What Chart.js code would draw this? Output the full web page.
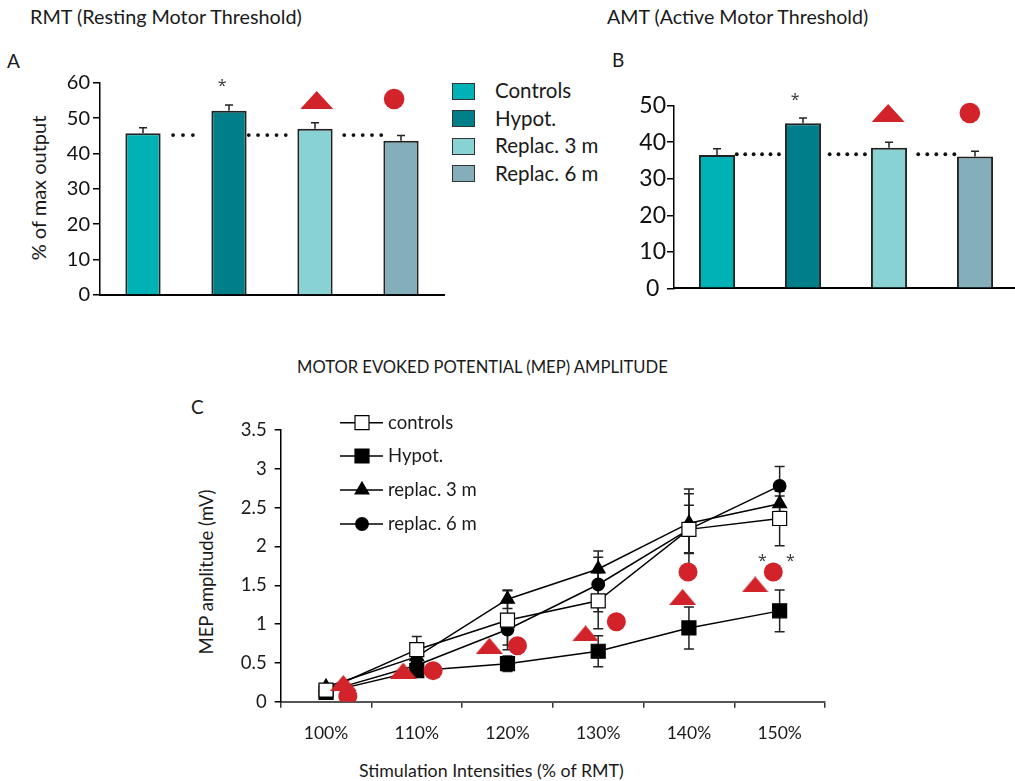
<!DOCTYPE html>
<html><head><meta charset="utf-8">
<script src="https://cdn.jsdelivr.net/npm/chart.js@4.4.1/dist/chart.umd.min.js"></script>
<style>
html,body{margin:0;padding:0;background:#fff;}
body{width:1015px;height:781px;overflow:hidden;position:relative;font-family:Lato,'Open Sans',sans-serif;color:#1a1a1a;}
.t{position:absolute;white-space:nowrap;line-height:1;}
.rot{position:absolute;white-space:nowrap;line-height:1;transform:translate(-50%,-50%) rotate(-90deg);}
canvas{position:absolute;}
.lg{position:absolute;width:23px;height:17px;border:1px solid #333;box-sizing:border-box;}
</style></head><body>
<div class="t" style="left:30px;top:7px;font-size:19.8px;">RMT (Resting Motor Threshold)</div>
<div class="t" style="left:7px;top:51px;font-size:19px;">A</div>
<div class="t" style="left:607px;top:7px;font-size:19.6px;">AMT (Active Motor Threshold)</div>
<div class="t" style="left:612px;top:50px;font-size:19px;">B</div>
<div class="rot" style="left:38px;top:188px;font-size:20px;">% of max output</div>
<div id="legA"></div>
<div class="t" style="left:297px;top:359px;font-size:16.6px;">MOTOR EVOKED POTENTIAL (MEP) AMPLITUDE</div>
<div class="t" style="left:191px;top:397px;font-size:19px;">C</div>
<div class="rot" style="left:206px;top:572px;font-size:18.5px;">MEP amplitude (mV)</div>
<div class="t" style="left:359px;top:762px;font-size:17.8px;">Stimulation Intensities (% of RMT)</div>

<canvas id="cA" width="450" height="275" style="left:0;top:40px;"></canvas>
<canvas id="cB" width="425" height="250" style="left:600px;top:60px;"></canvas>
<canvas id="cC" width="660" height="371" style="left:180px;top:410px;"></canvas>

<script>
const FONT = "Lato,'Open Sans',sans-serif";
const STAR_FONT = "'Open Sans','Noto Sans',sans-serif";
const RED = '#d2232a';

// ---------- Panels A & B data ----------
const groups = ['Controls', 'Hypot.', 'Replac. 3 m', 'Replac. 6 m'];
const barColors = ['#00b1b5', '#007f8b', '#89d2d4', '#84aeb9'];
const rmtValues = [45.7, 52.1, 47.0, 43.6];
const rmtErrors = [1.6, 1.6, 1.7, 1.5];
const amtValues = [36.5, 45.2, 38.5, 36.1];
const amtErrors = [1.7, 1.4, 1.5, 1.4];
const rmtTicks = [0, 10, 20, 30, 40, 50, 60];
const amtTicks = [0, 10, 20, 30, 40, 50];
// dotted connectors: [from category pos, to category pos, number of dots]
const rmtDotLevel = 45.2;
const rmtDotSpans = [[0.35, 0.58, 3], [1.23, 1.66, 5], [2.34, 2.77, 5]];
const amtDotLevel = 36.7;
const amtDotSpans = [[0.23, 0.72, 6], [1.31, 1.72, 5], [2.34, 2.76, 5]];
// significance marks [category pos, value]
const rmtStar = [0.92, 60.2], rmtTri = [2.02, 55.1], rmtDot = [2.92, 55.4];
const amtStar = [0.91, 52.4], amtTri = [1.99, 48.0], amtDot = [2.94, 48.0];

// ---------- Panel C data ----------
const intensities = [100, 110, 120, 130, 140, 150];
const intensityLabels = ['100%', '110%', '120%', '130%', '140%', '150%'];
const mepTicks = [0, 0.5, 1, 1.5, 2, 2.5, 3, 3.5];
const controlsMep = [0.15, 0.67, 1.05, 1.30, 2.22, 2.36];
const controlsErr = [0.03, 0.17, 0.38, 0.36, 0.31, 0.35];
const hypotMep = [0.12, 0.40, 0.49, 0.65, 0.95, 1.17];
const hypotErr = [0.03, 0.05, 0.10, 0.20, 0.27, 0.27];
const replac3Mep = [0.19, 0.58, 1.32, 1.71, 2.30, 2.55];
const replac3Err = [0.02, 0.10, 0.12, 0.23, 0.38, 0.10];
const replac6Mep = [0.13, 0.47, 0.93, 1.51, 2.22, 2.78];
const replac6Err = [0.02, 0.10, 0.20, 0.35, 0.52, 0.25];
const redTriX = [101.9, 108.5, 118.0, 128.6, 139.3, 147.3];
const redTriY = [0.24, 0.40, 0.72, 0.88, 1.35, 1.51];
const redDotX = [102.4, 111.8, 121.1, 132.0, 139.9, 149.3];
const redDotY = [0.07, 0.40, 0.72, 1.03, 1.67, 1.67];
const starC = [[148.1, 1.86], [151.2, 1.86]];

Chart.defaults.font.family = FONT;
Chart.defaults.color = '#1a1a1a';

// legend for A
(function(){
  const ys = [91, 118.5, 146, 173.5];
  const el = document.getElementById('legA');
  groups.forEach((g, i) => {
    const b = document.createElement('div');
    b.className = 'lg';
    b.style.left = '452px'; b.style.top = (ys[i] - 8.5) + 'px';
    b.style.background = barColors[i];
    el.appendChild(b);
    const t = document.createElement('div');
    t.className = 't';
    t.style.left = '495px'; t.style.top = (ys[i] - 11) + 'px'; t.style.fontSize = '20.5px';
    t.textContent = g;
    el.appendChild(t);
  });
})();

function triPath(ctx, cx, cy, w, h) {
  ctx.beginPath();
  ctx.moveTo(cx - w / 2, cy + h / 2);
  ctx.lineTo(cx + w / 2, cy + h / 2);
  ctx.lineTo(cx, cy - h / 2);
  ctx.closePath();
}

function makeBarExtras(values, errors, dotLevel, dotSpans, star, tri, dot) {
  return {
    id: 'barExtras',
    afterDatasetsDraw(chart) {
      const {ctx, scales: {x, y}} = chart;
      const meta = chart.getDatasetMeta(0);
      ctx.save();
      ctx.strokeStyle = '#222'; ctx.lineWidth = 1.5;
      values.forEach((v, i) => {
        const px = meta.data[i].x;
        const top = y.getPixelForValue(v);
        const et = y.getPixelForValue(v + errors[i]);
        ctx.beginPath();
        ctx.moveTo(px, top); ctx.lineTo(px, et);
        ctx.moveTo(px - 4, et); ctx.lineTo(px + 4, et);
        ctx.stroke();
      });
      ctx.fillStyle = '#111';
      const dy = y.getPixelForValue(dotLevel);
      dotSpans.forEach(([a, b, n]) => {
        const xa = x.getPixelForValue(a), xb = x.getPixelForValue(b);
        for (let k = 0; k < n; k++) {
          const px = xa + (xb - xa) * k / (n - 1);
          ctx.beginPath(); ctx.arc(px, dy, 1.9, 0, Math.PI * 2); ctx.fill();
        }
      });
      ctx.fillStyle = '#333';
      ctx.font = '16px ' + STAR_FONT;
      ctx.textAlign = 'center'; ctx.textBaseline = 'middle';
      ctx.fillText('*', x.getPixelForValue(star[0]), y.getPixelForValue(star[1]) + 4);
      ctx.fillStyle = RED;
      triPath(ctx, x.getPixelForValue(tri[0]), y.getPixelForValue(tri[1]), 33, 18);
      ctx.fill();
      ctx.beginPath();
      ctx.arc(x.getPixelForValue(dot[0]), y.getPixelForValue(dot[1]), 10.3, 0, Math.PI * 2);
      ctx.fill();
      ctx.restore();
    }
  };
}

function barChart(id, values, yTicks, barPct, pad, yWidth, fontSize, labelPad, crossAlign, extras) {
  return new Chart(document.getElementById(id), {
    type: 'bar',
    data: {
      labels: groups,
      datasets: [{
        data: values,
        backgroundColor: barColors,
        borderColor: '#222',
        borderWidth: 2,
        barPercentage: barPct,
        categoryPercentage: 1
      }]
    },
    options: {
      responsive: false, animation: false, events: [],
      layout: {padding: pad},
      plugins: {legend: {display: false}, tooltip: {enabled: false}},
      scales: {
        x: {
          ticks: {display: false},
          grid: {display: false},
          border: {color: '#000', width: 2},
          afterFit(s) { s.height = 5; }
        },
        y: {
          min: yTicks[0], max: yTicks[yTicks.length - 1],
          afterBuildTicks(s) { s.ticks = yTicks.map(v => ({value: v})); },
          ticks: {color: '#111', font: {size: fontSize}, padding: labelPad, crossAlign: crossAlign},
          grid: {drawOnChartArea: false, tickLength: 7, color: '#000', lineWidth: 1.5},
          border: {color: '#000', width: 1.5},
          afterFit(s) { s.width = yWidth; }
        }
      }
    },
    plugins: [extras]
  });
}

barChart('cA', rmtValues, rmtTicks, 0.41, {top: 42.7, left: 0, right: 6, bottom: 15}, 100, 20, 3, 'near',
  makeBarExtras(rmtValues, rmtErrors, rmtDotLevel, rmtDotSpans, rmtStar, rmtTri, rmtDot));
barChart('cB', amtValues, amtTicks, 0.42, {top: 45.7, left: 0, right: 7, bottom: 16.7}, 74, 23, 1, 'center',
  makeBarExtras(amtValues, amtErrors, amtDotLevel, amtDotSpans, amtStar, amtTri, amtDot));

// ---------- Panel C ----------
function makeTriImage(w, h, color) {
  const c = document.createElement('canvas');
  c.width = w; c.height = h;
  const g = c.getContext('2d');
  g.fillStyle = color;
  triPath(g, w / 2, h / 2, w, h);
  g.fill();
  return c;
}
const redTriImg = makeTriImage(27, 16, RED);

const seriesC = [
  {label: 'controls', vals: controlsMep, errs: controlsErr, style: 'rect', r: 9.9, fill: '#fff'},
  {label: 'Hypot.', vals: hypotMep, errs: hypotErr, style: 'rect', r: 9.9, fill: '#000'},
  {label: 'replac. 3 m', vals: replac3Mep, errs: replac3Err, style: 'triangle', r: 8, fill: '#000'},
  {label: 'replac. 6 m', vals: replac6Mep, errs: replac6Err, style: 'circle', r: 6.3, fill: '#000'}
];

const errPlugin = {
  id: 'errC',
  beforeDatasetsDraw(chart) {
    const {ctx, scales: {x, y}} = chart;
    ctx.save();
    ctx.strokeStyle = '#222'; ctx.lineWidth = 1.5;
    seriesC.forEach(s => {
      s.vals.forEach((v, i) => {
        const px = x.getPixelForValue(intensities[i]);
        const y1 = y.getPixelForValue(v + s.errs[i]);
        const y2 = y.getPixelForValue(v - s.errs[i]);
        ctx.beginPath();
        ctx.moveTo(px, y1); ctx.lineTo(px, y2);
        ctx.moveTo(px - 5, y1); ctx.lineTo(px + 5, y1);
        ctx.moveTo(px - 5, y2); ctx.lineTo(px + 5, y2);
        ctx.stroke();
      });
    });
    ctx.restore();
  },
  afterDatasetsDraw(chart) {
    const {ctx, scales: {x, y}} = chart;
    ctx.save();
    ctx.fillStyle = '#333';
    ctx.font = '16px ' + STAR_FONT;
    ctx.textAlign = 'center'; ctx.textBaseline = 'middle';
    starC.forEach(([sx, sy]) => ctx.fillText('*', x.getPixelForValue(sx), y.getPixelForValue(sy) + 4));
    ctx.restore();
  },
  afterDraw(chart) {
    const ctx = chart.ctx;
    const ys = [12.7, 46, 80, 114];
    ctx.save();
    seriesC.forEach((s, i) => {
      const yy = ys[i];
      ctx.strokeStyle = '#000'; ctx.lineWidth = 1.5;
      ctx.beginPath(); ctx.moveTo(160, yy); ctx.lineTo(203, yy); ctx.stroke();
      ctx.fillStyle = s.fill; ctx.strokeStyle = '#000'; ctx.lineWidth = 1.2;
      Chart.helpers.drawPoint(ctx, {pointStyle: s.style, radius: s.r, rotation: 0, borderWidth: 1.2}, 182, yy);
      ctx.fillStyle = '#1a1a1a';
      ctx.font = '18.5px ' + FONT;
      ctx.textAlign = 'left'; ctx.textBaseline = 'middle';
      ctx.fillText(s.label, 208, yy);
    });
    ctx.restore();
  }
};

const datasetsC = [
  {
    label: 'sig3', data: redTriX.map((x, i) => ({x, y: redTriY[i]})),
    showLine: false, pointStyle: redTriImg, pointRadius: 10, order: 0
  },
  {
    label: 'sig6', data: redDotX.map((x, i) => ({x, y: redDotY[i]})),
    showLine: false, pointStyle: 'circle', pointRadius: 9.5,
    pointBackgroundColor: RED, pointBorderColor: RED, pointBorderWidth: 0, order: 0
  }
].concat(seriesC.map((s, k) => ({
  label: s.label,
  data: intensities.map((x, i) => ({x, y: s.vals[i]})),
  showLine: true, tension: 0,
  borderColor: '#000', borderWidth: 1.5,
  pointStyle: s.style, pointRadius: s.r,
  pointBackgroundColor: s.fill, pointBorderColor: '#000', pointBorderWidth: 1.2,
  order: 1 + k
})));

new Chart(document.getElementById('cC'), {
  type: 'scatter',
  data: {datasets: datasetsC},
  options: {
    responsive: false, animation: false, events: [],
    layout: {padding: {top: 20, left: 0, right: 11, bottom: 0}},
    plugins: {legend: {display: false}, tooltip: {enabled: false}},
    scales: {
      x: {
        type: 'linear', min: 95, max: 155,
        afterBuildTicks(s) {
          const t = [95];
          intensities.forEach(v => { t.push(v); t.push(v + 5); });
          s.ticks = t.map(v => ({value: v}));
        },
        ticks: {
          autoSkip: false, maxRotation: 0, color: '#1a1a1a', font: {size: 17.5}, padding: 15,
          callback: (v) => { const i = intensities.indexOf(v); return i >= 0 ? intensityLabels[i] : ''; }
        },
        grid: {
          drawOnChartArea: false, tickLength: 6, lineWidth: 1.5,
          color: (c) => (c.tick && intensities.indexOf(c.tick.value) < 0) ? '#333' : 'rgba(0,0,0,0)'
        },
        border: {color: '#555', width: 2},
        afterFit(s) { s.height = 79.3; }
      },
      y: {
        min: 0, max: 3.5,
        afterBuildTicks(s) { s.ticks = mepTicks.map(v => ({value: v})); },
        ticks: {color: '#1a1a1a', font: {size: 18.5}, padding: 8, callback: (v) => String(v)},
        grid: {drawOnChartArea: false, tickLength: 6, color: '#000', lineWidth: 1.5},
        border: {color: '#000', width: 1.5},
        afterFit(s) { s.width = 100.7; }
      }
    }
  },
  plugins: [errPlugin]
});
</script>
</body></html>
